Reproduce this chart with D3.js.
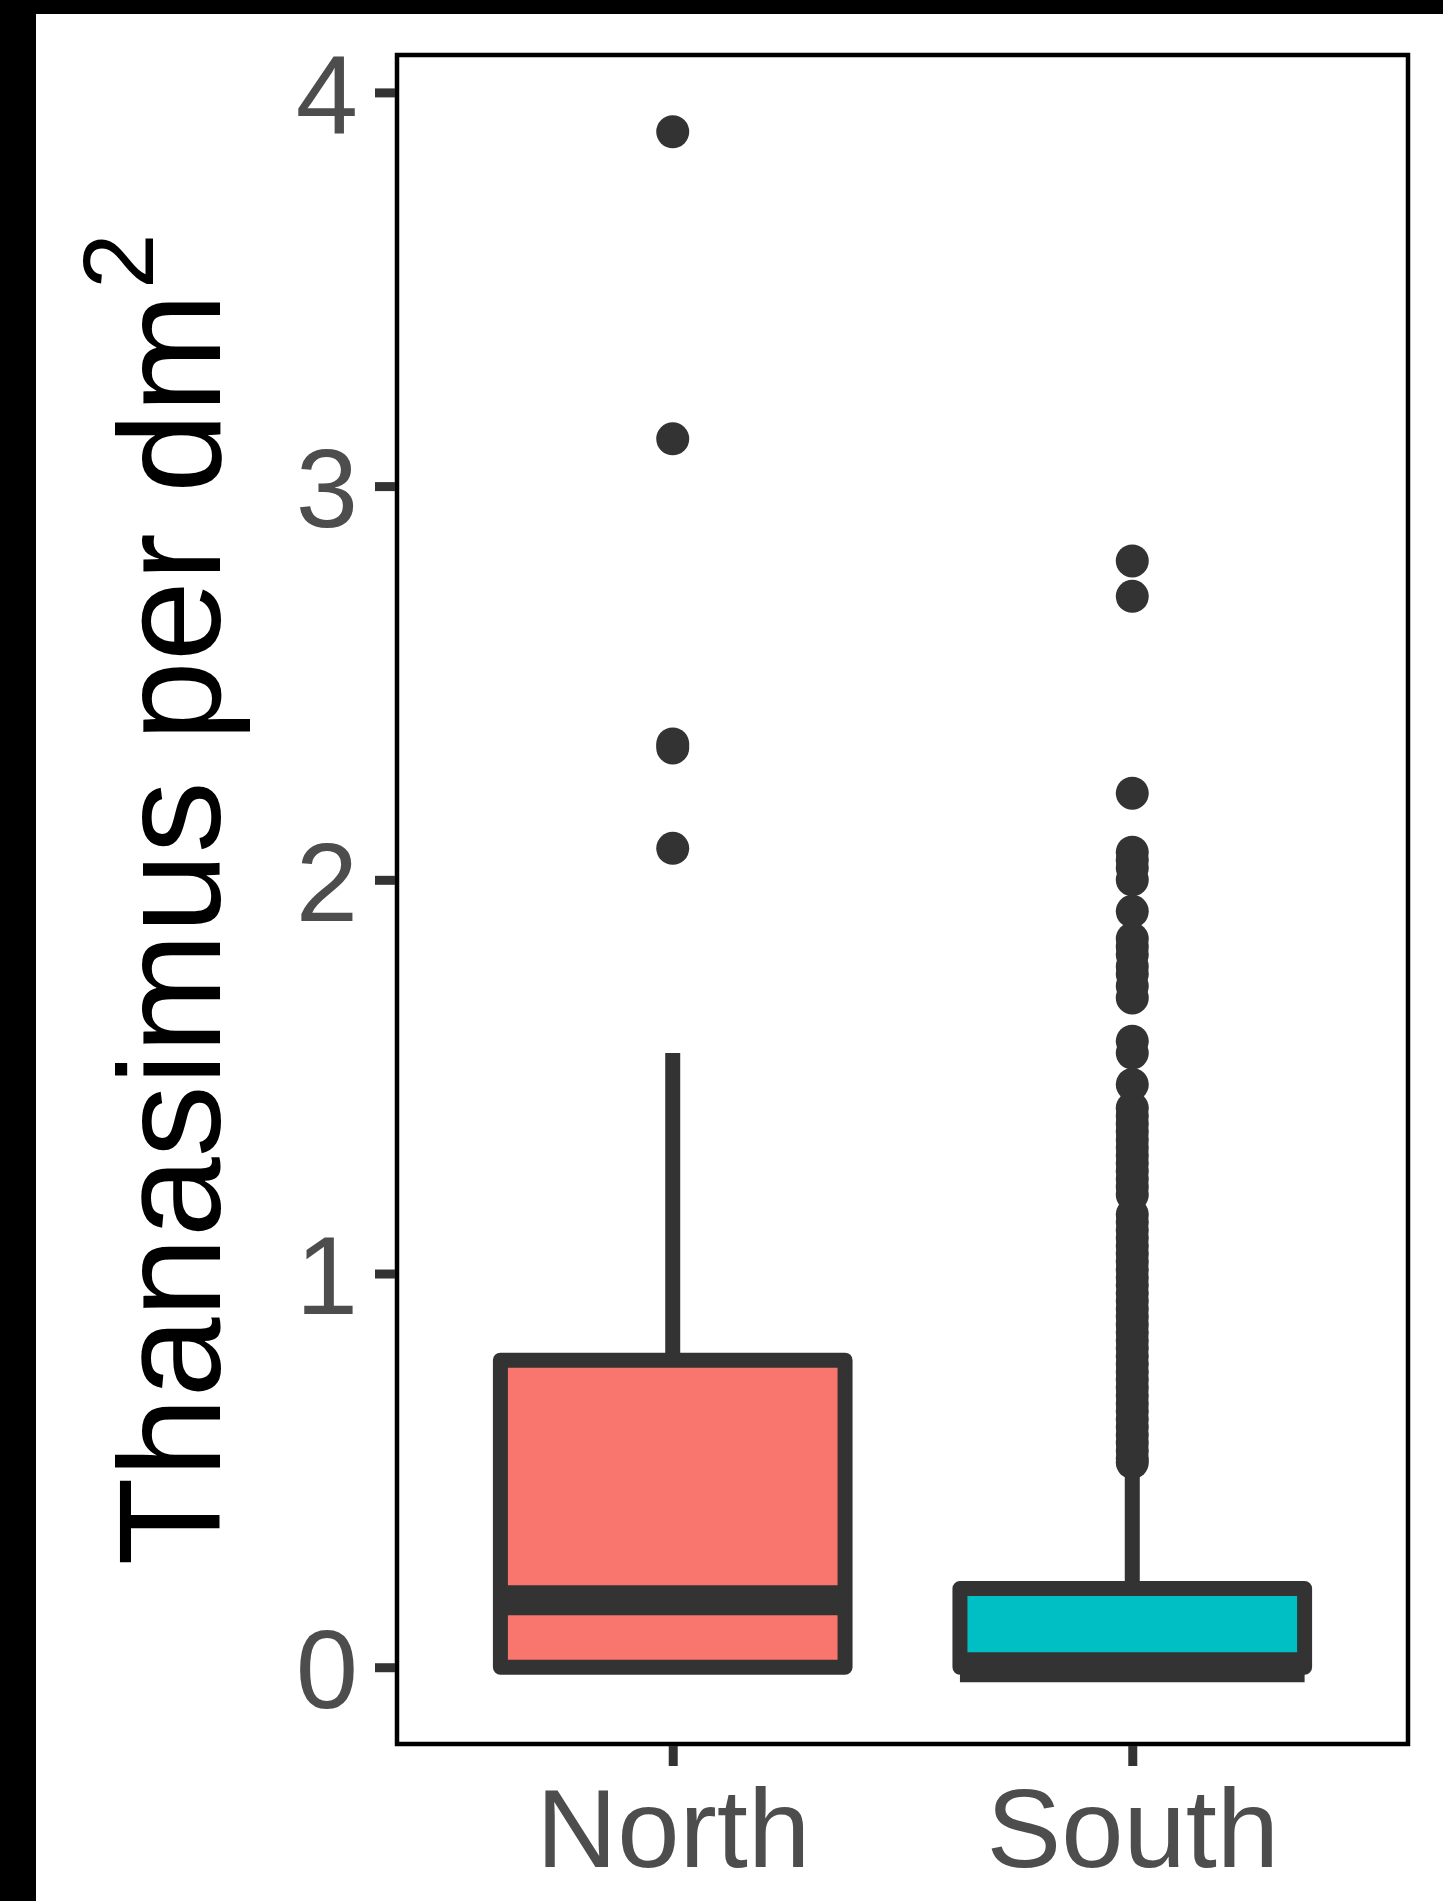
<!DOCTYPE html>
<html>
<head>
<meta charset="utf-8">
<script src="https://cdn.jsdelivr.net/npm/d3@7"></script>
<style>
  html, body { margin: 0; padding: 0; background: #ffffff; }
  svg { display: block; }
  text { font-family: "Liberation Sans", Arial, Helvetica, sans-serif; }
</style>
</head>
<body>
<script>
// Thanasimus density by region: box-and-whisker summary plus outliers.
const categories = ["North", "South"];
const fills = ["#F8766D", "#00BFC4"];

// Five-number summaries (per dm²)
const lowerWhisker = [0, 0];
const q1 = [0, 0];
const medians = [0.17, 0];
const q3 = [0.78, 0.2];
const upperWhisker = [1.56, 0.5];

// Outlying observations
const northOutliers = [3.9, 3.12, 2.345, 2.335, 2.08];
const southOutliers = [
  2.81, 2.72, 2.22,
  2.07, 2.05, 2.03, 2.0, 1.92,
  1.85, 1.83, 1.81, 1.78, 1.76, 1.73, 1.7,
  1.59, 1.56, 1.48,
  1.42, 1.4, 1.38, 1.36, 1.34, 1.32, 1.3, 1.28, 1.26, 1.24, 1.22, 1.2,
  1.15, 1.13, 1.11, 1.09, 1.07, 1.05, 1.03, 1.01, 0.99, 0.97, 0.95, 0.93,
  0.91, 0.89, 0.87, 0.85, 0.83, 0.81, 0.79, 0.77, 0.75, 0.73, 0.71, 0.69,
  0.67, 0.65, 0.63, 0.61, 0.59, 0.57, 0.55, 0.53, 0.52
];

const yTicks = [0, 1, 2, 3, 4];

const W = 1443, H = 1901;
const panel = { left: 397, right: 1408, top: 55, bottom: 1744 };
const ink = "#333333";

const svg = d3.select("body").append("svg")
  .attr("width", W).attr("height", H);

svg.append("rect").attr("x", 0).attr("y", 0).attr("width", W).attr("height", H).attr("fill", "#ffffff");

// Dark frame along top and left edges
svg.append("rect").attr("x", 0).attr("y", 0).attr("width", W).attr("height", 14).attr("fill", "#000");
svg.append("rect").attr("x", 0).attr("y", 0).attr("width", 36).attr("height", H).attr("fill", "#000");

const yMin = 0, yMax = 3.9;
const pad = (yMax - yMin) * 0.05;
const y = d3.scaleLinear()
  .domain([yMin - pad, yMax + pad])
  .range([panel.bottom, panel.top]);

const x = d3.scalePoint()
  .domain(categories)
  .range([panel.left, panel.right])
  .padding(0.6);

const boxW = x.step() * 0.75;
const lw = 15;

const plot = svg.append("g");

const outlierSets = [northOutliers, southOutliers];

categories.forEach((c, i) => {
  const cx = x(c);
  const g = plot.append("g");

  // outliers
  g.selectAll("circle")
    .data(outlierSets[i])
    .join("circle")
    .attr("cx", cx)
    .attr("cy", d => y(d))
    .attr("r", 16.5)
    .attr("fill", ink);

  // whiskers
  g.append("line")
    .attr("x1", cx).attr("x2", cx)
    .attr("y1", y(q3[i])).attr("y2", y(upperWhisker[i]))
    .attr("stroke", ink).attr("stroke-width", lw);
  if (lowerWhisker[i] < q1[i]) {
    g.append("line")
      .attr("x1", cx).attr("x2", cx)
      .attr("y1", y(q1[i])).attr("y2", y(lowerWhisker[i]))
      .attr("stroke", ink).attr("stroke-width", lw);
  }

  // box
  g.append("rect")
    .attr("x", cx - boxW / 2)
    .attr("y", y(q3[i]))
    .attr("width", boxW)
    .attr("height", y(q1[i]) - y(q3[i]))
    .attr("fill", fills[i])
    .attr("stroke", ink)
    .attr("stroke-width", lw)
    .attr("stroke-linejoin", "round");

  // median
  g.append("line")
    .attr("x1", cx - boxW / 2).attr("x2", cx + boxW / 2)
    .attr("y1", y(medians[i])).attr("y2", y(medians[i]))
    .attr("stroke", ink).attr("stroke-width", lw * 2);
});

// panel border
svg.append("rect")
  .attr("x", panel.left).attr("y", panel.top)
  .attr("width", panel.right - panel.left)
  .attr("height", panel.bottom - panel.top)
  .attr("fill", "none")
  .attr("stroke", "#000")
  .attr("stroke-width", 4.5);

// y axis
const yAxis = svg.append("g")
  .attr("transform", `translate(${panel.left - 2},0)`)
  .call(d3.axisLeft(y).tickValues(yTicks).tickFormat(d3.format("d")).tickSize(20).tickPadding(17));
yAxis.select(".domain").remove();
yAxis.selectAll(".tick line").attr("stroke", ink).attr("stroke-width", 9);
yAxis.selectAll(".tick text")
  .attr("fill", "#4D4D4D")
  .attr("font-size", 112)
  .attr("dy", "0.36em");

// x axis
const xAxis = svg.append("g")
  .attr("transform", `translate(0,${panel.bottom + 2})`)
  .call(d3.axisBottom(x).tickSize(20).tickPadding(21));
xAxis.select(".domain").remove();
xAxis.selectAll(".tick line").attr("stroke", ink).attr("stroke-width", 9);
xAxis.selectAll(".tick text")
  .attr("fill", "#4D4D4D")
  .attr("font-size", 112)
  .attr("dy", "0.71em");

// y axis title with superscript
const title = svg.append("text")
  .attr("transform", `translate(219.5,${(panel.top + panel.bottom) / 2}) rotate(-90)`)
  .attr("text-anchor", "middle")
  .attr("fill", "#000")
  .attr("font-size", 144);
title.append("tspan").text("Thanasimus per dm");
title.append("tspan").attr("font-size", 100).attr("dy", -67).attr("dx", 4).text("2");
</script>
</body>
</html>
